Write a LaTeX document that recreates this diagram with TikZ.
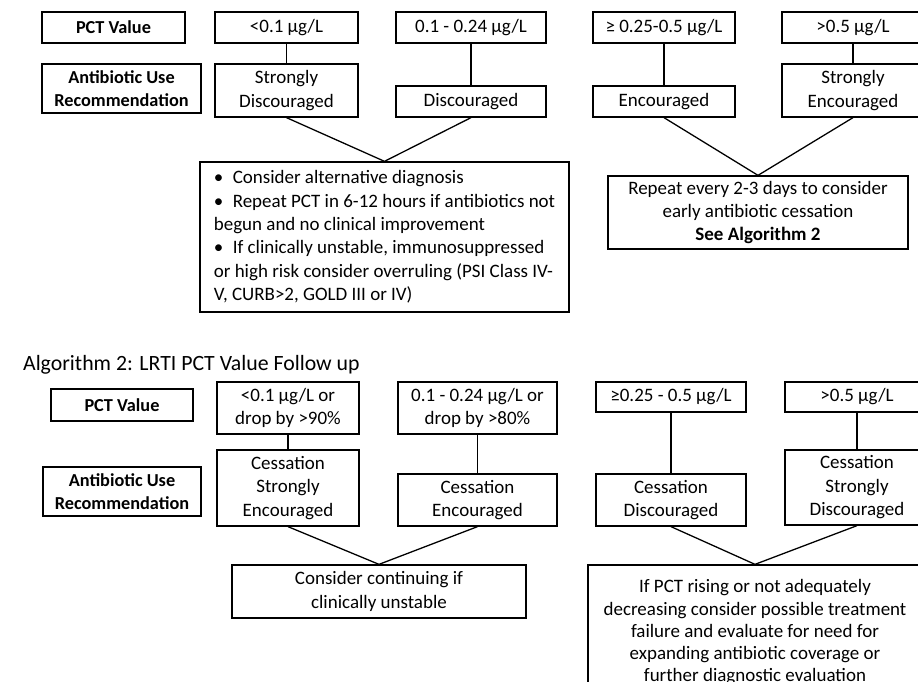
\documentclass[tikz,border=0pt]{standalone}
\usepackage{fontspec}
\setmainfont{Carlito}
\tikzset{
  pctbox/.style={draw, line width=1.1pt, inner sep=0pt, align=center,
    font=\fontsize{16.2}{20}\selectfont},
  headbox/.style={pctbox, font=\fontsize{15.6}{20}\selectfont\bfseries},
  link/.style={line width=1.1pt}
}

\begin{document}
\begin{tikzpicture}[x=0.03cm,y=-0.03cm]
        \useasboundingbox (0,0) rectangle (918,682);
        \fill[white] (0,0) rectangle (918,682);
        \clip (0,0) rectangle (918,682);
        % Algorithm 1
        \node[headbox,minimum width=4.29cm,minimum height=0.93cm] (pcta) at (113.5,27.5) {PCT Value};
        \node[pctbox,minimum width=4.29cm,minimum height=0.93cm] (vala1) at (286.5,27.5) {<0.1 µg/L};
        \node[pctbox,minimum width=4.5cm,minimum height=0.93cm] (vala2) at (471,27.5) {0.1 - 0.24 µg/L};
        \node[pctbox,minimum width=4.26cm,minimum height=0.93cm] (vala3) at (664,27.5) {≥ 0.25-0.5 µg/L};
        \node[pctbox,minimum width=4.26cm,minimum height=0.93cm] (vala4) at (853,27.5) {>0.5 µg/L};
        \node[headbox,minimum width=4.77cm,minimum height=1.47cm] (usea) at (121.5,88.5) {Antibiotic Use\\Recommendation};
        \node[pctbox,minimum width=4.29cm,minimum height=1.59cm] (reca1) at (286.5,90.5) {Strongly\\Discouraged};
        \node[pctbox,minimum width=4.5cm,minimum height=0.93cm] (reca2) at (471,101.5) {Discouraged};
        \node[pctbox,minimum width=4.26cm,minimum height=0.93cm] (reca3) at (664,101.5) {Encouraged};
        \node[pctbox,minimum width=4.26cm,minimum height=1.59cm] (reca4) at (853,90.5) {Strongly\\Encouraged};
        \node[pctbox,minimum width=11.07cm,align=left,minimum height=4.5cm] (notea) at (384.5,237)
            {•\enspace Consider alternative diagnosis\\
             •\enspace Repeat PCT in 6-12 hours if antibiotics not\\
             begun and no clinical improvement\\
             •\enspace If clinically unstable, immunosuppressed\\
             or high risk consider overruling (PSI Class IV-\\
             V, CURB>2, GOLD III or IV)};
        \node[pctbox,minimum width=9cm,minimum height=2.19cm] (repeata) at (758,212.5)
            {Repeat every 2-3 days to consider\\early antibiotic cessation\\\textbf{See Algorithm 2}};
        \draw[link] (vala1.south)--(reca1.north);
        \draw[link] (vala2.south)--(reca2.north);
        \draw[link] (vala3.south)--(reca3.north);
        \draw[link] (vala4.south)--(reca4.north);
        \draw[link] (reca1.south)--(notea.north)--(reca2.south);
        \draw[link] (reca3.south)--(repeata.north)--(reca4.south);
        % Algorithm 2
        \node[anchor=west,font=\fontsize{18.6}{20}\selectfont] (titleb) at (19,365) {Algorithm 2: LRTI PCT Value Follow up};
        \node[headbox,minimum width=4.26cm,minimum height=0.96cm] (pctb) at (122,405) {PCT Value};
        \node[pctbox,minimum width=4.26cm,minimum height=1.56cm] (valb1) at (288,408) {<0.1 µg/L or\\drop by >90\%};
        \node[pctbox,minimum width=4.77cm,minimum height=1.56cm] (valb2) at (477.5,408) {0.1 - 0.24 µg/L or\\drop by >80\%};
        \node[pctbox,minimum width=4.5cm,minimum height=0.9cm] (valb3) at (671,397) {≥0.25 - 0.5 µg/L};
        \node[pctbox,minimum width=4.32cm,minimum height=0.9cm] (valb4) at (857,397) {>0.5 µg/L};
        \node[headbox,minimum width=4.74cm,minimum height=1.47cm] (useb) at (122,491.5) {Antibiotic Use\\Recommendation};
        \node[pctbox,minimum width=4.26cm,minimum height=2.28cm] (recb1) at (288,488) {Cessation\\Strongly\\Encouraged};
        \node[pctbox,minimum width=4.77cm,minimum height=1.56cm] (recb2) at (477.5,500) {Cessation\\Encouraged};
        \node[pctbox,minimum width=4.5cm,minimum height=1.56cm] (recb3) at (671,500) {Cessation\\Discouraged};
        \node[pctbox,minimum width=4.32cm,minimum height=2.25cm] (recb4) at (857,487.5) {Cessation\\Strongly\\Discouraged};
        \node[pctbox,minimum width=8.82cm,minimum height=1.59cm] (contb) at (379,591.5) {Consider continuing if\\clinically unstable};
        \node[pctbox,minimum width=10.02cm,minimum height=4.05cm,font=\fontsize{16.2}{19}\selectfont] (failb) at (755,632.5)
            {If PCT rising or not adequately\\decreasing consider possible treatment\\failure and evaluate for need for\\expanding antibiotic coverage or\\further diagnostic evaluation};
        \draw[link] (valb1.south)--(recb1.north);
        \draw[link] (valb2.south)--(recb2.north);
        \draw[link] (valb3.south)--(recb3.north);
        \draw[link] (valb4.south)--(recb4.north);
        \draw[link] (recb1.south)--(contb.north)--(recb2.south);
        \draw[link] (recb3.south)--(failb.north)--(recb4.south);
    \end{tikzpicture}
\end{document}
